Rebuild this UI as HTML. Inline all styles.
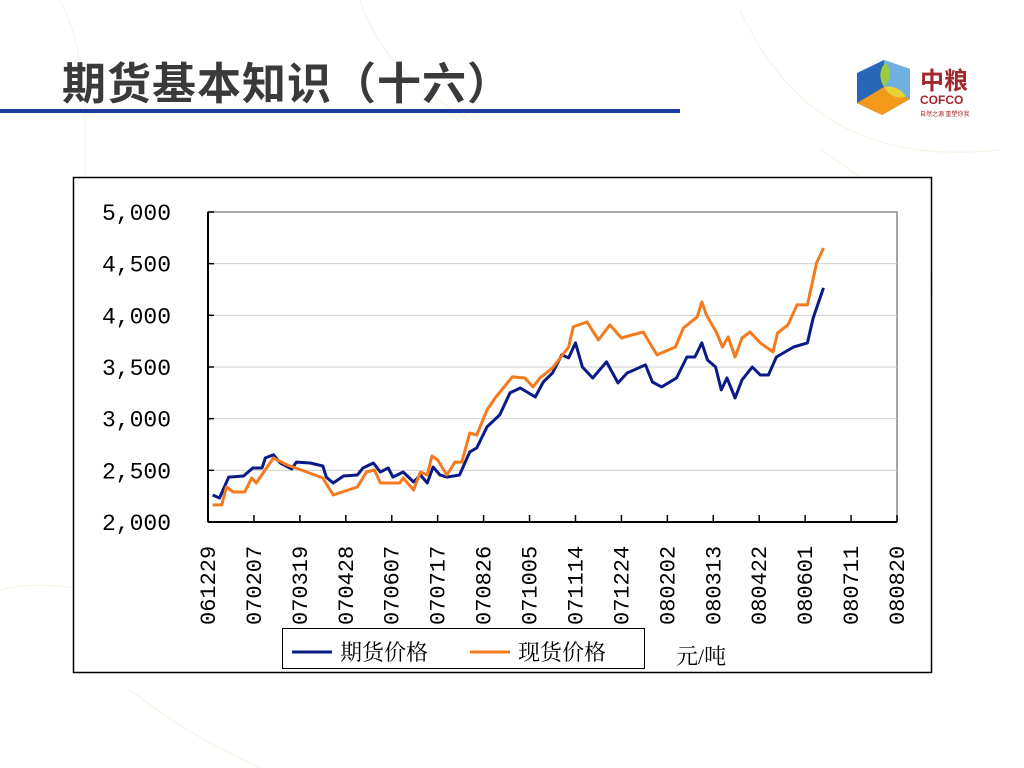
<!DOCTYPE html>
<html><head><meta charset="utf-8">
<style>
html,body{margin:0;padding:0;background:#fff;}
body{width:1024px;height:768px;position:relative;overflow:hidden;font-family:"Liberation Sans","Noto Sans CJK SC",sans-serif;}
#title{position:absolute;left:62px;top:48px;font-size:44px;font-weight:bold;color:#3a3a3a;font-family:"Liberation Sans","Noto Sans CJK SC",sans-serif;letter-spacing:1px;}
#rule{position:absolute;left:0;top:109px;width:680px;height:4px;background:#1a3a9e;}
</style></head>
<body>
<svg width="1024" height="768" style="position:absolute;left:0;top:0">
<g fill="none" stroke="#f5f5e6" stroke-width="1.2">
<path d="M60 0 C 120 120, 40 240, 140 330"/><path d="M0 590 C 80 570, 140 620, 200 600"/>
<path d="M740 10 C 800 140, 900 160, 1000 150"/><path d="M820 150 C 900 200, 960 260, 920 330"/>
<path d="M130 690 C 170 720, 200 740, 260 768"/><path d="M360 0 C 380 60, 420 90, 470 120"/>
</g>
</svg>
<div id="title">期货基本知识（十六）</div>
<div id="rule"></div>
<svg width="130" height="70" style="position:absolute;left:852px;top:55px">
<polygon points="32,5 58,14 58,44 30,60 5,48 5,18" fill="#2a66b8"/>
<polygon points="32,5 58,14 58,44 32,32" fill="#6fb0e0"/>
<polygon points="5,48 30,60 58,44 32,32" fill="#f39a1a"/>
<path d="M32 32 C 26 22, 28 12, 34 8 C 40 16, 38 26, 32 32Z" fill="#9ccc3c"/>
<path d="M32 32 C 40 30, 50 34, 54 42 C 44 44, 36 40, 32 32Z" fill="#e8d23a"/>
<text x="68" y="34" font-size="24" font-weight="bold" fill="#a3282c" font-family="Liberation Sans,Noto Sans CJK SC,sans-serif">中粮</text>
<text x="68" y="49" font-size="12" font-weight="bold" fill="#a3282c" font-family="Liberation Sans,sans-serif">COFCO</text>
<text x="68" y="61" font-size="6" fill="#a3282c" font-family="Noto Sans CJK SC,sans-serif">自然之源 重塑你我</text>
</svg>
<svg id="chart" width="1024" height="768" style="position:absolute;left:0;top:0"></svg>
<script>
const categories=["061229","070207","070319","070428","070607","070717","070826","071005","071114","071224","080202","080313","080422","080601","080711","080820"];
const yTicks=[2000,2500,3000,3500,4000,4500,5000];
const yTickLabels=["2,000","2,500","3,000","3,500","4,000","4,500","5,000"];
const futDays=[4,10,18,31,39,47,50,57,63,73,77,89,100,103,109,118,130,135,144,150,157,161,170,179,185,191,196,202,208,219,228,234,243,254,263,272,285,292,300,308,314,320,326,335,347,357,365,381,387,395,408,417,424,430,435,442,447,452,459,465,474,481,488,495,510,522,527,536];
const futVals=[2261,2232,2435,2445,2523,2523,2620,2650,2571,2513,2580,2571,2542,2435,2377,2445,2455,2523,2571,2484,2523,2435,2484,2387,2455,2377,2532,2455,2435,2455,2678,2716,2920,3036,3249,3297,3210,3355,3442,3617,3588,3733,3500,3394,3549,3346,3442,3520,3355,3307,3394,3597,3597,3733,3568,3500,3278,3394,3200,3375,3500,3423,3423,3597,3694,3733,3975,4265];
const spotDays=[4,12,16,22,32,38,42,57,69,86,100,109,130,138,145,150,167,170,179,185,191,195,200,208,215,221,228,234,243,250,265,276,283,289,300,314,318,330,340,350,360,369,379,391,407,414,426,430,434,443,448,453,459,465,472,481,492,496,505,513,522,530,536];
const spotVals=[2165,2165,2339,2290,2290,2426,2377,2620,2552,2484,2426,2261,2339,2484,2503,2377,2377,2426,2310,2484,2455,2639,2600,2455,2580,2580,2861,2842,3084,3200,3404,3394,3307,3394,3491,3694,3888,3936,3762,3907,3781,3810,3839,3617,3694,3878,3985,4130,4004,3830,3694,3791,3597,3781,3839,3733,3646,3830,3907,4101,4101,4507,4652];
const NS="http://www.w3.org/2000/svg";
const svg=document.getElementById('chart');
const X0=208,X1=897,Y0=522,Y1=212,DAYS=600;
const xs=d=>X0+(X1-X0)*d/DAYS;
const ys=v=>Y0-(Y0-Y1)*(v-2000)/3000;
const TF='Liberation Mono,Noto Serif CJK SC,monospace';
function mk(tag,attrs,parent){const e=document.createElementNS(NS,tag);for(const k in attrs)e.setAttribute(k,attrs[k]);(parent||svg).appendChild(e);return e;}
const frame=mk('rect',{x:73.5,y:177.5,width:858,height:495,fill:'#fff',stroke:'#000','stroke-width':1.5});


const plot=mk('rect',{x:X0,y:Y1,width:X1-X0,height:Y0-Y1,fill:'#fff',stroke:'#888','stroke-width':1.5});


yTicks.forEach((v,i)=>{
  if(i>0&&i<yTicks.length-1){const g=mk('line',{x1:X0,x2:X1,y1:ys(v),y2:ys(v),stroke:'#cfcfcf','stroke-width':1});
  
  }
  mk('line',{x1:X0,x2:X0+6,y1:ys(v),y2:ys(v),stroke:'#000','stroke-width':1.5});
  const t=mk('text',{x:171,y:ys(v)+8,'text-anchor':'end','font-size':23,'font-family':TF,fill:'#000'});
  t.textContent=yTickLabels[i];
  
  
});
mk('line',{x1:X0,x2:X0,y1:Y1,y2:Y0,stroke:'#000','stroke-width':2});
mk('line',{x1:X0,x2:X1,y1:Y0,y2:Y0,stroke:'#000','stroke-width':2});
categories.forEach((c,i)=>{
  const x=xs(i*40);
  mk('line',{x1:x,x2:x,y1:Y0,y2:Y0-7,stroke:'#000','stroke-width':1.5});
  const t=mk('text',{x:0,y:0,transform:`translate(${x+7},${625}) rotate(-90)`,'font-size':22,'font-family':TF,fill:'#000'});
  t.textContent=c;
  
  
});
function line(days,vals,color,name){
  const p=mk('polyline',{points:days.map((d,i)=>xs(d).toFixed(1)+','+ys(vals[i]).toFixed(1)).join(' '),fill:'none',stroke:color,'stroke-width':3,'stroke-linejoin':'round'});
  
  
}
line(futDays,futVals,'#0a1a86','futures-price-line');
line(spotDays,spotVals,'#f57a1e','spot-price-line');
const lg=mk('g',{});


mk('rect',{x:282.5,y:628.5,width:362,height:40,fill:'#fff',stroke:'#000','stroke-width':1},lg);
mk('line',{x1:292,x2:332,y1:652,y2:652,stroke:'#0a1a86','stroke-width':3},lg);
const l1=mk('text',{x:340,y:660,'font-size':22,'font-family':'Liberation Serif,Noto Serif CJK SC,serif'},lg);l1.textContent='期货价格';


mk('line',{x1:470,x2:510,y1:652,y2:652,stroke:'#f57a1e','stroke-width':3},lg);
const l2=mk('text',{x:518,y:660,'font-size':22,'font-family':'Liberation Serif,Noto Serif CJK SC,serif'},lg);l2.textContent='现货价格';


const u=mk('text',{x:676,y:664,'font-size':22,'font-family':'Liberation Serif,Noto Serif CJK SC,serif'});u.textContent='元/吨';


</script>
</body></html>
